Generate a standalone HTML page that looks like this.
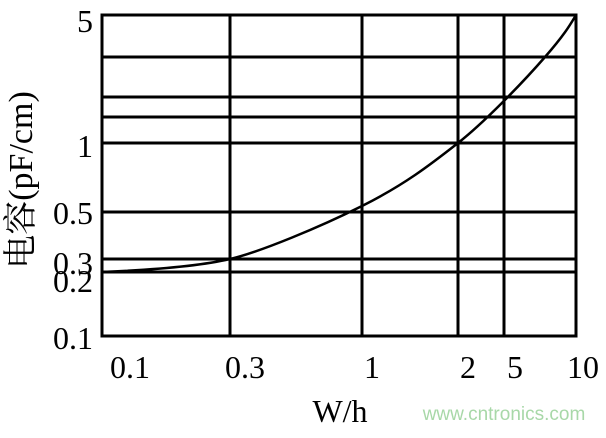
<!DOCTYPE html>
<html><head><meta charset="utf-8"><style>
body{margin:0;background:#fff;width:606px;height:433px;overflow:hidden}
</style></head><body>
<svg width="606" height="433" xmlns="http://www.w3.org/2000/svg">
<g stroke="#000" stroke-width="3" fill="none">
<rect x="102" y="15" width="474" height="321"/>
<line x1="230" y1="15" x2="230" y2="336"/>
<line x1="362" y1="15" x2="362" y2="336"/>
<line x1="458" y1="15" x2="458" y2="336"/>
<line x1="504" y1="15" x2="504" y2="336"/>
<line x1="102" y1="57" x2="576" y2="57"/>
<line x1="102" y1="97" x2="576" y2="97"/>
<line x1="102" y1="117" x2="576" y2="117"/>
<line x1="102" y1="143" x2="576" y2="143"/>
<line x1="102" y1="212" x2="576" y2="212"/>
<line x1="102" y1="259" x2="576" y2="259"/>
<line x1="102" y1="272" x2="576" y2="272"/>
<path d="M102,272 C150,270 200,266 230,259 S320,227 362,206 S430,165 458,143 S525,80 545,57 S570,25 576,15" stroke-width="2.5"/>
</g>
<g font-family="Liberation Serif, serif" font-size="32" fill="#000">
<text x="93" y="32" text-anchor="end">5</text>
<text x="93" y="157" text-anchor="end">1</text>
<text x="93" y="224" text-anchor="end">0.5</text>
<text x="93" y="274" text-anchor="end">0.3</text>
<text x="93" y="292" text-anchor="end">0.2</text>
<text x="93" y="349" text-anchor="end">0.1</text>
<text x="130" y="378" text-anchor="middle">0.1</text>
<text x="245" y="378" text-anchor="middle">0.3</text>
<text x="372" y="378" text-anchor="middle">1</text>
<text x="468" y="378" text-anchor="middle">2</text>
<text x="515" y="378" text-anchor="middle">5</text>
<text x="583" y="378" text-anchor="middle">10</text>
<text x="340" y="422" text-anchor="middle">W/h</text>
<text transform="translate(32,180) rotate(-90)" text-anchor="middle" font-size="34" font-family="Liberation Serif, 'Noto Serif CJK SC', serif">电容(pF/cm)</text>
</g>
<text x="504" y="420" text-anchor="middle" font-family="Liberation Sans, sans-serif" font-size="19" fill="#a8d8a8">www.cntronics.com</text>
</svg>
</body></html>
